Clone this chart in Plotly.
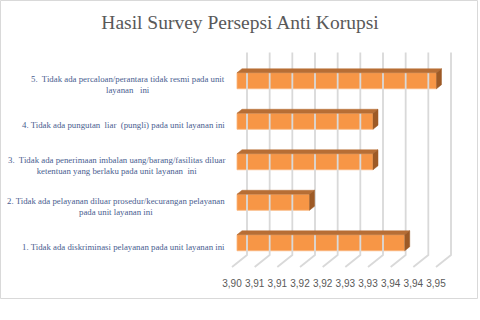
import plotly.graph_objects as go

# ---------------- data ----------------
categories = [
    "1. Tidak ada diskriminasi pelayanan pada unit layanan ini",
    "2. Tidak ada pelayanan diluar prosedur/kecurangan pelayanan<br>pada unit layanan ini",
    "3.  Tidak ada penerimaan imbalan uang/barang/fasilitas diluar<br>ketentuan yang berlaku pada unit layanan  ini",
    "4. Tidak ada pungutan  liar  (pungli) pada unit layanan ini",
    "5.  Tidak ada percaloan/perantara tidak resmi pada unit<br>layanan   ini",
]
values = [3.937, 3.916, 3.930, 3.930, 3.944]
tick_vals = [3.900, 3.905, 3.910, 3.915, 3.920, 3.925, 3.930, 3.935, 3.940, 3.945]
tick_labels = ["3,90", "3,91", "3,91", "3,92", "3,92", "3,93", "3,93", "3,94", "3,94", "3,95"]
title = "Hasil Survey Persepsi Anti Korupsi"

# ---------------- geometry (pixels -> data) ----------------
W, H = 480, 320
x_dom_px = (222, 462)
front_lo_px, front_hi_px = 232, 436          # front-plane position of first/last tick
sx = (front_hi_px - front_lo_px) / (tick_vals[-1] - tick_vals[0])
x_range = [tick_vals[0] - (front_lo_px - x_dom_px[0]) / sx,
           tick_vals[-1] + (x_dom_px[1] - front_hi_px) / sx]

y_dom_px = (48, 272)                         # top, bottom
floor_px = 267
sy = 40.5
y_range = [-0.5 - (y_dom_px[1] - floor_px) / sy, -0.5 + (floor_px - y_dom_px[0]) / sy]

# 3D depth offsets (pixels right, pixels up)
bar_front = (5, 4)
bar_depth = (5, 4)
wall = (15, 12)
bar_h = 16

dx1, dy1 = bar_front[0] / sx, bar_front[1] / sy
ddx, ddy = bar_depth[0] / sx, bar_depth[1] / sy
wx, wy = wall[0] / sx, wall[1] / sy
half = bar_h / sy / 2
n = len(categories)

fig = go.Figure()

# back wall gridlines + floor diagonals
gx, gy = [], []
for t in tick_vals:
    gx += [t, t + wx, t + wx, None]
    gy += [-0.5, -0.5 + wy, n - 0.5 + wy, None]
fig.add_trace(go.Scatter(x=gx, y=gy, mode="lines",
                         line=dict(color="#D9D9D9", width=1.8),
                         hoverinfo="skip"))

base = tick_vals[0]
# front faces
fig.add_trace(go.Bar(
    y=[i + dy1 for i in range(n)],
    x=[v - base for v in values],
    base=base + dx1,
    orientation="h",
    width=2 * half,
    marker=dict(color="#F79646", line=dict(color="#FAB57C", width=0.8)),
))

# top and side faces
for i, v in enumerate(values):
    yc = i + dy1
    top = yc + half
    bot = yc - half
    fig.add_trace(go.Scatter(
        x=[base + dx1, v + dx1, v + dx1 + ddx, base + dx1 + ddx, base + dx1],
        y=[top, top, top + ddy, top + ddy, top],
        fill="toself", fillcolor="#B76E35", mode="lines",
        line=dict(color="#B76E35", width=0.5), hoverinfo="skip"))
    fig.add_trace(go.Scatter(
        x=[v + dx1, v + dx1 + ddx, v + dx1 + ddx, v + dx1, v + dx1],
        y=[bot, bot + ddy, top + ddy, top, bot],
        fill="toself", fillcolor="#9D5A26", mode="lines",
        line=dict(color="#9D5A26", width=0.5), hoverinfo="skip"))

# category labels
for i, c in enumerate(categories):
    fig.add_annotation(x=227 / W, xref="paper", y=i, yref="y",
                       text=c, showarrow=False, xanchor="right", yanchor="middle",
                       align="center",
                       font=dict(family="Liberation Serif", size=8.8, color="#4A6090"))

fig.update_layout(
    width=W, height=H,
    margin=dict(l=0, r=0, t=0, b=0),
    paper_bgcolor="white", plot_bgcolor="white",
    showlegend=False,
    title=dict(text=title, x=0.5, xanchor="center", y=1 - 22 / H, yanchor="middle",
               font=dict(family="Liberation Serif", size=19.5, color="#595959")),
    xaxis=dict(domain=[x_dom_px[0] / W, x_dom_px[1] / W], range=x_range,
               showgrid=False, zeroline=False, showline=False,
               tickvals=tick_vals, ticktext=tick_labels, ticks="",
               ticklabelstandoff=4,
               tickfont=dict(family="Liberation Sans", size=10, color="#595959")),
    yaxis=dict(domain=[1 - y_dom_px[1] / H, 1 - y_dom_px[0] / H], range=y_range,
               showgrid=False, zeroline=False, showline=False,
               showticklabels=False, ticks=""),
    shapes=[dict(type="rect", xref="paper", yref="paper",
                 x0=0.5 / W, x1=477.5 / W, y0=1 - 298.5 / H, y1=1 - 0.5 / H,
                 line=dict(color="#D9D9D9", width=1), fillcolor="rgba(0,0,0,0)")],
)

fig.write_html("out.html")
